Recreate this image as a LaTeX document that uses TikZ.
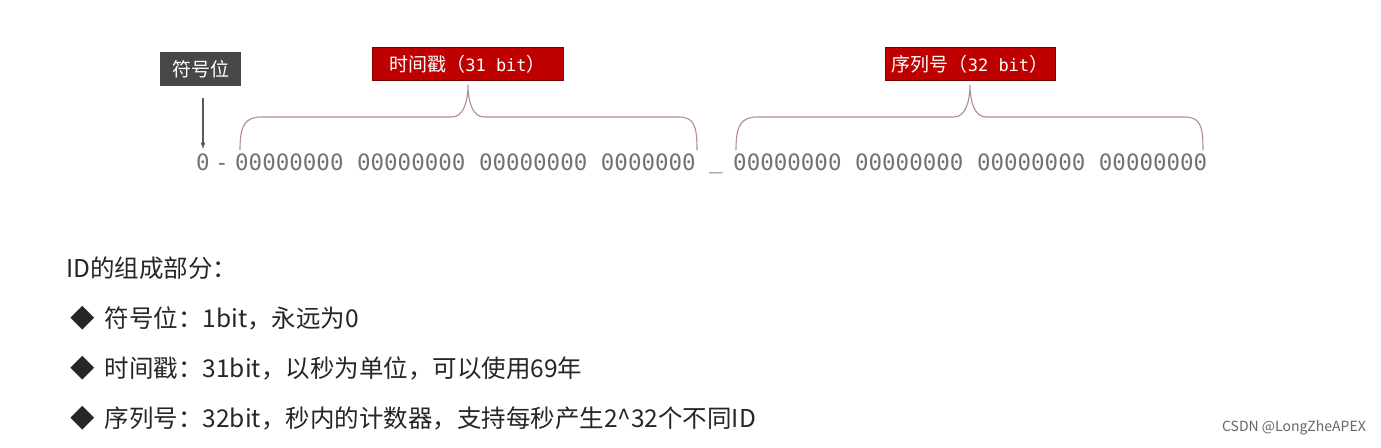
\documentclass[tikz,border=0pt]{standalone}
\usepackage{fontspec}
\setmainfont{Noto Sans CJK SC}
\newfontfamily\digitfont{DejaVu Sans Mono}
\begin{document}
\begin{tikzpicture}[x=1pt,y=-1pt,
  lbl/.style={text=white,inner sep=0pt,font=\fontsize{19}{22}\selectfont},
  digits/.style={text=black!55,inner sep=0pt,anchor=base west,font=\digitfont\fontsize{22.5}{24}\selectfont},
  brace/.style={draw=red!35!black!45,line width=1.1pt},
  body/.style={anchor=west,inner sep=0pt,font=\fontsize{24.5}{28}\selectfont,text=black!85}]
\useasboundingbox[fill=white] (0,0) rectangle (1381,447);
\node[lbl,fill=black!72,minimum width=81,minimum height=34] (sign) at (200.5,69) {符号位};
\node[lbl,fill=red!75!black,draw=red!50!black,minimum width=191,minimum height=33] (ts) at (467.5,64) {时间戳（{\digitfont\fontsize{17}{20}\selectfont 31 bit}）};
\node[lbl,fill=red!75!black,draw=red!50!black,minimum width=170,minimum height=33] (seq) at (970,64) {序列号（{\digitfont\fontsize{17}{20}\selectfont 32 bit}）};
\coordinate (arrtop) at (203,98);
\coordinate (arrbot) at (203,149);
\draw[black!65,line width=1.2pt,-latex] (arrtop) -- (arrbot);
\node[digits] (dz) at (196,170) {0};
\node[digits] (dh) at (215,170) {-};
\node[digits] (d1) at (235,170) {00000000 00000000 00000000 0000000};
\node[digits] (dm) at (709,168) {\_};
\node[digits] (d2) at (733,170) {00000000 00000000 00000000 00000000};
\draw[brace] (240,150) .. controls (240,125) and (245,117) .. (262,117) -- (452,117) .. controls (464,117) and (468,100) .. (468,85) .. controls (468,100) and (472,117) .. (484,117) -- (678,117) .. controls (694,117) and (697,125) .. (697,150);
\draw[brace] (736,150) .. controls (736,125) and (741,117) .. (758,117) -- (954,117) .. controls (966,117) and (970,100) .. (970,85) .. controls (970,100) and (974,117) .. (986,117) -- (1184,117) .. controls (1200,117) and (1203,125) .. (1203,150);
\node[body] (t0) at (66,268) {ID的组成部分：};
\node[body] (t1) at (70,318) {◆\hspace{10pt}符号位：1bit，永远为0};
\node[body] (t2) at (70,368) {◆\hspace{10pt}时间戳：31bit，以秒为单位，可以使用69年};
\node[body] (t3) at (70,418) {◆\hspace{10pt}序列号：32bit，秒内的计数器，支持每秒产生2\^{}32个不同ID};
\node[anchor=east,inner sep=0pt,text=black!60,font=\fontsize{14}{16}\selectfont] (wm) at (1366,428) {CSDN @LongZheAPEX};
\end{tikzpicture}
\end{document}
